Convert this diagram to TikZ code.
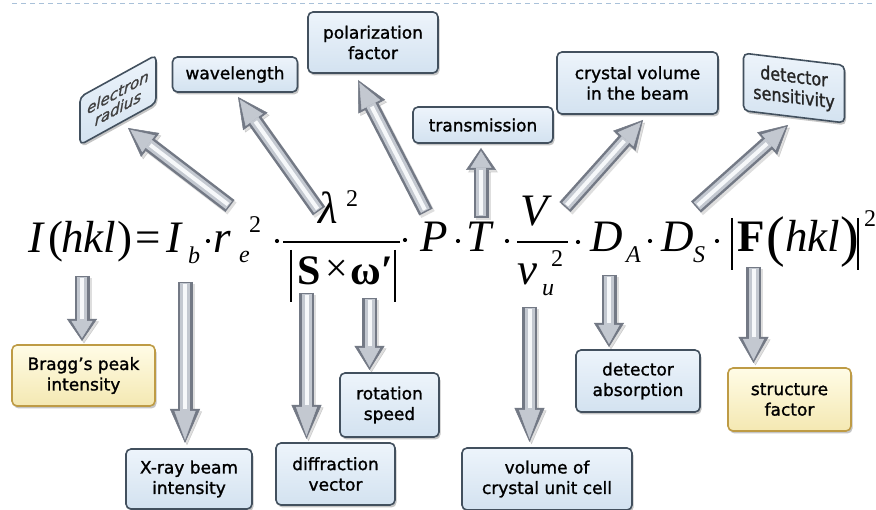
\documentclass[tikz,border=0pt]{standalone}
\usepackage{fontspec}
\setmainfont{Liberation Serif}
\newfontfamily\boxfont{DejaVu Sans}[FakeBold=1.3]
\usetikzlibrary{arrows.meta,shadows}
\definecolor{boxedge}{HTML}{42505E}
\definecolor{boxtop}{HTML}{EDF4FB}
\definecolor{boxbot}{HTML}{D3E2F0}
\definecolor{yedge}{HTML}{BE9B45}
\definecolor{ytop}{HTML}{FFFCE6}
\definecolor{ybot}{HTML}{F4E8B2}
\definecolor{adark}{HTML}{737985}
\definecolor{amid}{HTML}{C3C8D0}
\definecolor{alight}{HTML}{F6F8FA}
\definecolor{dashc}{HTML}{A9C1D9}
\newcommand{\garrow}[3][26]{%
  \pgfmathsetmacro{\hla}{#1}%
  \pgfmathsetmacro{\hlb}{#1-5}%
  \draw[line width=15pt, draw=black, opacity=0.13, transform canvas={shift={(2pt,-2.5pt)}}, -{Triangle[length=\hla pt,width=30pt,line width=0.5pt]}] (#2) -- (#3);
  \draw[line width=15pt, draw=adark, -{Triangle[length=\hla pt,width=30pt,line width=0.5pt]}] (#2) -- (#3);
  \draw[line width=10pt, draw=amid, shorten <=1.5pt, shorten >=3pt, -{Triangle[length=\hlb pt,width=21pt,line width=0.5pt]}] (#2) -- (#3);
  \draw[line width=4pt, draw=alight, shorten <=2.5pt, shorten >=\hla pt] (#2) -- (#3);
}
\tikzset{
  bx/.style={draw=boxedge, line width=1.6pt, rounded corners=5pt, top color=boxtop, bottom color=boxbot,
    drop shadow={shadow xshift=1.5pt, shadow yshift=-2.5pt, opacity=0.45},
    font=\boxfont\fontsize{17}{20.5}\selectfont, align=center, inner sep=2pt},
  ybx/.style={bx, draw=yedge, top color=ytop, bottom color=ybot},
  eqi/.style={inner sep=0pt, anchor=base west, font=\fontsize{45}{45}\selectfont\itshape},
  eqr/.style={inner sep=0pt, anchor=base west, font=\fontsize{45}{45}\selectfont},
  eqb/.style={inner sep=0pt, anchor=base west, font=\fontsize{42}{42}\selectfont\bfseries},
  eqs/.style={inner sep=0pt, anchor=base west, font=\fontsize{24}{24}\selectfont\itshape},
  eqsr/.style={inner sep=0pt, anchor=base west, font=\fontsize{24}{24}\selectfont},
  eqp/.style={inner sep=0pt, anchor=base west, font=\fontsize{56}{56}\selectfont},
  eqline/.style={line width=2pt},
  eqdot/.style={fill=black}
}
\begin{document}
\begin{tikzpicture}[x=1pt,y=-1pt]
\useasboundingbox (0,0) rectangle (876,510);
\fill[white] (0,0) rectangle (876,510);
% top dashed rule
\coordinate (dl) at (12,4);
\coordinate (dr) at (876,4);
\draw[dashc, line width=1pt, dash pattern=on 5pt off 4pt] (dl) -- (dr);

% arrow end points
\coordinate (t1) at (230,206);   \coordinate (h1) at (128,128);
\coordinate (t2) at (319,211);   \coordinate (h2) at (238,97);
\coordinate (t3) at (426,212);   \coordinate (h3) at (358,80);
\coordinate (t4) at (481,218);   \coordinate (h4) at (481,148);
\coordinate (t5) at (565,207);   \coordinate (h5) at (643,120);
\coordinate (t6) at (696,207);   \coordinate (h6) at (788,125);
\coordinate (t7) at (82,276);    \coordinate (h7) at (82,341);
\coordinate (t8) at (185,282);   \coordinate (h8) at (185,443);
\coordinate (t9) at (306.5,293); \coordinate (h9) at (306.5,439);
\coordinate (t10) at (369.5,298);\coordinate (h10) at (369.5,370);
\coordinate (t11) at (529.5,307);\coordinate (h11) at (529.5,442);
\coordinate (t12) at (609,275);  \coordinate (h12) at (609,347);
\coordinate (t13) at (753.5,267);\coordinate (h13) at (753.5,363);

\garrow[28]{t1}{h1}
\garrow[30]{t2}{h2}
\garrow[30]{t3}{h3}
\garrow[22]{t4}{h4}
\garrow[28]{t5}{h5}
\garrow[28]{t6}{h6}
\garrow[22]{t7}{h7}
\garrow[34]{t8}{h8}
\garrow[34]{t9}{h9}
\garrow[24]{t10}{h10}
\garrow[34]{t11}{h11}
\garrow[24]{t12}{h12}
\garrow[26]{t13}{h13}

% boxes (top)
\begin{scope}[shift={(118,100)}, yslant=0.55, transform shape]
  \node[bx, minimum width=76pt, minimum height=48pt, font=\boxfont\fontsize{15}{16}\selectfont\itshape, text=black!75] (er) at (0,0) {electron\\radius};
\end{scope}
\node[bx, minimum width=125pt, minimum height=35pt] (wl) at (235,74.5) {wavelength};
\node[bx, minimum width=130pt, minimum height=61pt] (pf) at (373,42.5) {polarization\\factor};
\node[bx, minimum width=140pt, minimum height=36pt] (tr) at (483,125) {transmission};
\node[bx, minimum width=161pt, minimum height=62pt] (cv) at (637.5,83) {crystal volume\\in the beam};
\begin{scope}[shift={(794,88)}, yslant=-0.12, yscale=1.15, transform shape]
  \node[bx, minimum width=101pt, minimum height=50pt, font=\boxfont\fontsize{16}{18}\selectfont, text=black!85] (ds) at (0,0) {detector\\sensitivity};
\end{scope}

% boxes (bottom)
\node[ybx, minimum width=143pt, minimum height=61pt] (bp) at (83.5,375.5) {Bragg’s peak\\intensity};
\node[bx, minimum width=126pt, minimum height=60pt] (xb) at (189,479) {X-ray beam\\intensity};
\node[bx, minimum width=119pt, minimum height=62pt] (dv) at (335.5,474) {diffraction\\vector};
\node[bx, minimum width=99pt, minimum height=64pt] (rs) at (389.5,405) {rotation\\speed};
\node[bx, minimum width=170pt, minimum height=62pt] (vc) at (547,479) {volume of\\crystal unit cell};
\node[bx, minimum width=124pt, minimum height=62pt] (da) at (638,381) {detector\\absorption};
\node[ybx, minimum width=123pt, minimum height=63pt] (sf) at (789.5,399.5) {structure\\factor};

% formula
\node[eqi] (f1) at (28,253) {I};
\node[eqr] (f2) at (48,253) {(};
\node[eqi] (f3) at (61,253) {hkl};
\node[eqr] (f4) at (117,253) {)};
\node[eqr] (f5) at (135,253) {=};
\node[eqi] (f6) at (166,253) {I};
\node[eqs] (f7) at (188,264) {b};
\fill[eqdot] (208,241) circle (2.1);
\node[eqi] (f8) at (213,253) {r};
\node[eqs] (f9) at (239,263) {e};
\node[eqsr] (f10) at (249,233) {2};
\fill[eqdot] (277,241) circle (2.1);
\coordinate (b1l) at (283,242); \coordinate (b1r) at (400,242);
\draw[eqline] (b1l) -- (b1r);
\node[eqi] (f11) at (318,224) {λ};
\node[eqsr] (f12) at (346,207) {2};
\coordinate (v1a) at (291,250); \coordinate (v1b) at (291,302);
\coordinate (v2a) at (395,250); \coordinate (v2b) at (395,302);
\draw[eqline] (v1a) -- (v1b);
\draw[eqline] (v2a) -- (v2b);
\node[eqb] (f13) at (297,285) {S};
\node[inner sep=0pt, anchor=base west, font=\fontsize{40}{40}\selectfont] (f14) at (325,282) {×};
\node[eqb] (f15) at (350,285) {ω};
\node[eqb] (f16) at (381,285) {′};
\fill[eqdot] (405,240) circle (2.1);
\node[eqi] (f17) at (420,252) {P};
\fill[eqdot] (458,241) circle (2.1);
\node[eqi] (f18) at (466,252) {T};
\fill[eqdot] (507,241) circle (2.1);
\coordinate (b2l) at (517,242); \coordinate (b2r) at (568,242);
\draw[eqline] (b2l) -- (b2r);
\node[eqi] (f19) at (520,226) {V};
\node[eqi] (f20) at (517,285) {v};
\node[eqs] (f21) at (542,296) {u};
\node[eqsr] (f22) at (551,267) {2};
\fill[eqdot] (578,242) circle (2.1);
\node[eqi] (f23) at (590,252) {D};
\node[eqs] (f24) at (626,263) {A};
\fill[eqdot] (650,241) circle (2.1);
\node[eqi] (f25) at (661,252) {D};
\node[eqs] (f26) at (693,263) {S};
\fill[eqdot] (717,241) circle (2.1);
\coordinate (v3a) at (732,218); \coordinate (v3b) at (732,270);
\draw[eqline] (v3a) -- (v3b);
\node[inner sep=0pt, anchor=base west, font=\fontsize{45}{45}\selectfont\bfseries] (f27) at (737,252) {F};
\node[eqp] (f28) at (766,256) {(};
\node[eqi] (f29) at (785,252) {hkl};
\node[eqp] (f30) at (840,256) {)};
\coordinate (v4a) at (858,218); \coordinate (v4b) at (858,270);
\draw[eqline] (v4a) -- (v4b);
\node[eqsr] (f31) at (864,227) {2};
\end{tikzpicture}
\end{document}
